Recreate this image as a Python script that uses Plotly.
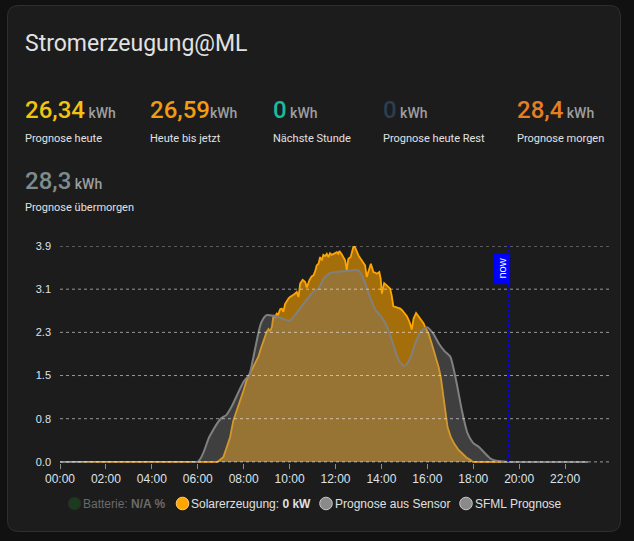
import plotly.graph_objects as go

# ---------------- data ----------------
tick_hours = [0, 2, 4, 6, 8, 10, 12, 14, 16, 18, 20, 22]
tick_labels = ["00:00", "02:00", "04:00", "06:00", "08:00", "10:00",
               "12:00", "14:00", "16:00", "18:00", "20:00", "22:00"]
y_tickvals = [0, 0.78, 1.56, 2.34, 3.12, 3.9]
y_ticklabels = ["0.0", "0.8", "1.5", "2.3", "3.1", "3.9"]

# Solarerzeugung (kW), hour of day
solar_hours = [0.0, 6.85, 6.95, 7.12, 7.25, 7.41, 7.55, 7.70, 7.84, 8.00, 8.13, 8.25,
               8.42, 8.55, 8.64, 8.75, 8.86, 9.00, 9.08, 9.15, 9.23, 9.30, 9.37, 9.44,
               9.50, 9.59, 9.66, 9.73, 9.80, 9.88, 9.95, 10.02, 10.10, 10.17, 10.24,
               10.31, 10.39, 10.46, 10.57, 10.68, 10.75, 10.86, 10.96, 11.04, 11.12,
               11.18, 11.26, 11.33, 11.40, 11.47, 11.55, 11.62, 11.69, 11.76, 11.84,
               11.91, 11.98, 12.06, 12.12, 12.17, 12.27, 12.35, 12.42, 12.49, 12.56,
               12.66, 12.72, 12.78, 12.85, 12.92, 13.00, 13.08, 13.15, 13.22, 13.29,
               13.36, 13.44, 13.54, 13.60, 13.65, 13.72, 13.80, 13.91, 13.97, 14.02,
               14.07, 14.12, 14.23, 14.30, 14.38, 14.45, 14.52, 14.60, 14.67, 14.75,
               14.82, 14.90, 14.96, 15.04, 15.11, 15.18, 15.25, 15.32, 15.40, 15.51,
               15.61, 15.69, 15.76, 15.84, 15.90, 15.97, 16.05, 16.19, 16.27, 16.41,
               16.50, 16.59, 16.67, 16.74, 16.81, 16.88, 17.02, 17.17, 17.35, 17.53,
               17.70, 17.90, 17.98, 19.52]
solar_values = [0, 0, 0.03, 0.09, 0.25, 0.45, 0.75, 0.92, 1.11, 1.30, 1.48, 1.58,
                1.72, 1.82, 1.90, 2.05, 2.20, 2.35, 2.40, 2.36, 2.44, 2.65, 2.62, 2.68,
                2.66, 2.76, 2.77, 2.71, 2.85, 2.92, 2.95, 2.98, 3.01, 3.02, 3.04,
                3.07, 2.98, 3.22, 3.29, 3.25, 3.15, 3.28, 3.35, 3.37, 3.45,
                3.55, 3.58, 3.70, 3.64, 3.74, 3.72, 3.76, 3.70, 3.77, 3.74,
                3.76, 3.77, 3.79, 3.76, 3.81, 3.75, 3.70, 3.64, 3.47, 3.67,
                3.70, 3.78, 3.89, 3.88, 3.80, 3.73, 3.68, 3.64, 3.60, 3.55,
                3.34, 3.46, 3.58, 3.50, 3.43, 3.42, 3.40, 3.43, 3.30, 3.04,
                3.15, 3.23, 3.19, 3.16, 3.13, 3.00, 2.81, 2.80, 2.79, 2.78,
                2.77, 2.74, 2.71, 2.67, 2.63, 2.57, 2.50, 2.39, 2.59, 2.69,
                2.63, 2.59, 2.55, 2.50, 2.44, 2.38, 2.32, 2.14, 2.03, 1.85,
                1.70, 1.52, 1.25, 1.00, 0.80, 0.63, 0.45, 0.33, 0.22, 0.15,
                0.08, 0.03, 0, 0]

# Prognose aus Sensor (kW)
forecast_hours = [0, 6.0, 6.5, 7.0, 7.25, 7.5, 8.0, 8.25, 8.5, 8.75, 9.0, 9.5, 10.0,
                  10.5, 11.0, 11.25, 11.5, 11.75, 12.0, 12.5, 13.0, 13.25, 13.5,
                  13.75, 14.0, 14.25, 14.5, 14.75, 15.0, 15.25, 15.5, 15.75, 16.0,
                  16.25, 16.5, 16.75, 17.0, 17.25, 17.5, 17.75, 18.0, 18.25, 18.5,
                  18.75, 19.0, 19.5, 23.0]
forecast_values = [0, 0, 0.45, 0.78, 0.85, 1.02, 1.45, 1.58, 2.05, 2.50, 2.65, 2.62, 2.55,
                   2.80, 3.06, 3.13, 3.32, 3.41, 3.43, 3.45, 3.46, 3.28, 2.98,
                   2.74, 2.62, 2.44, 2.14, 1.84, 1.73, 1.87, 2.17, 2.38, 2.43,
                   2.32, 2.14, 2.00, 1.90, 1.48, 0.94, 0.52, 0.34, 0.27, 0.16,
                   0.06, 0.02, 0, 0]

now_hour = 19.52

stats_values = ["26,34", "26,59", "0", "0", "28,4", "28,3"]
stats_units = [" kWh", "kWh", " kWh", " kWh", " kWh", " kWh"]
stats_labels = ["Prognose heute", "Heute bis jetzt", "Nächste Stunde",
                "Prognose heute Rest", "Prognose morgen", "Prognose übermorgen"]
stats_colors = ["#f1c40f", "#f39c12", "#1abc9c", "#2c3e50", "#e67e22", "#7f8c8d"]
stats_x = [24, 149, 272, 382, 516, 24]
stats_row = [0, 0, 0, 0, 0, 1]

legend_names = ["Batterie: <b>N/A %</b>", "Solarerzeugung: <b>0 kW</b>",
                "Prognose aus Sensor", "SFML Prognose"]
legend_fill = ["#1c3a1c", "#ffa500", "#8a8a8a", "#8a8a8a"]
legend_border = ["#2a2a2a", "#ffd27a", "#c8c8c8", "#c8c8c8"]
legend_text_color = ["#6a6a6a", "#e0e0e0", "#e0e0e0", "#e0e0e0"]
legend_x = [74.5, 182.5, 326, 466]

# ---------------- geometry ----------------
W, H = 634, 541
L, R, T, B = 60, 611, 246, 463
Y_MIN, Y_MAX = -0.02, 3.9


def px(x):
    return (x - L) / (R - L)


def py(y):
    return (B - y) / (B - T)


fig = go.Figure()

fig.add_trace(go.Scatter(
    x=solar_hours, y=solar_values, mode="lines", name="Solarerzeugung",
    line=dict(color="#ffa500", width=1.8, shape="linear"),
    fill="tozeroy", fillcolor="rgba(255,165,0,0.6)", showlegend=False,
    hoverinfo="skip"))

fig.add_trace(go.Scatter(
    x=forecast_hours, y=forecast_values, mode="lines", name="Prognose aus Sensor",
    line=dict(color="#808080", width=2, shape="spline", smoothing=0.6),
    fill="tozeroy", fillcolor="rgba(128,128,128,0.35)", showlegend=False,
    hoverinfo="skip"))

shapes = []
# card
x0, x1, y0, y1, r = 7.5, 620.5, 5.5, 531.5, 11


def P(x, y):
    return f"{px(x):.5f},{py(y):.5f}"


path = (f"M {P(x0 + r, y0)} L {P(x1 - r, y0)} Q {P(x1, y0)} {P(x1, y0 + r)} "
        f"L {P(x1, y1 - r)} Q {P(x1, y1)} {P(x1 - r, y1)} "
        f"L {P(x0 + r, y1)} Q {P(x0, y1)} {P(x0, y1 - r)} "
        f"L {P(x0, y0 + r)} Q {P(x0, y0)} {P(x0 + r, y0)} Z")
shapes.append(dict(type="path", path=path, xref="paper", yref="paper",
                   fillcolor="#1c1c1c", line=dict(color="#2f2f2f", width=1),
                   layer="below"))

# dashed horizontal grid lines drawn over the areas
for yv in y_tickvals:
    shapes.append(dict(type="line", xref="paper", yref="y", x0=0, x1=px(609),
                       y0=yv, y1=yv, layer="above",
                       line=dict(color="rgba(255,255,255,0.55)", width=1,
                                 dash="3px,3px")))

# now line
shapes.append(dict(type="line", xref="x", yref="paper", x0=now_hour, x1=now_hour,
                   y0=py(462), y1=1, line=dict(color="#0000ff", width=1.5,
                                               dash="3px,2px")))

# legend circles
for lx, fc, bc in zip(legend_x, legend_fill, legend_border):
    shapes.append(dict(type="circle", xref="paper", yref="paper",
                       xsizemode="pixel", ysizemode="pixel",
                       xanchor=px(lx), yanchor=py(503.5),
                       x0=-6.3, x1=6.3, y0=-6.3, y1=6.3,
                       fillcolor=fc, line=dict(color=bc, width=1)))

annotations = []
annotations.append(dict(x=now_hour, xref="x", xshift=-6.5, y=py(253), yref="paper",
                        text="\u00a0now\u00a0", textangle=-90, showarrow=False,
                        bgcolor="#0000ff", borderpad=2,
                        font=dict(family="Liberation Sans", size=11, color="#ffffff")))

# title
annotations.append(dict(x=px(23), y=py(43), xref="paper", yref="paper",
                        xanchor="left", yanchor="middle", showarrow=False,
                        text="Stromerzeugung@ML",
                        font=dict(family="Roboto", size=23, color="#e1e1e1")))

for v, u, lab, col, sx, row in zip(stats_values, stats_units, stats_labels,
                                   stats_colors, stats_x, stats_row):
    vy = 110 + row * 71
    ly = 138 + row * 69
    annotations.append(dict(
        x=px(sx - 1), y=py(vy), xref="paper", yref="paper", xanchor="left",
        yanchor="middle", showarrow=False,
        text=f"{v}<span style='font-size:14px;color:#9e9e9e;font-weight:500'>{u}</span>",
        font=dict(family="Roboto", size=24, color=col, weight=500)))
    annotations.append(dict(
        x=px(sx - 1), y=py(ly), xref="paper", yref="paper", xanchor="left",
        yanchor="middle", showarrow=False, text=lab,
        font=dict(family="Roboto", size=11, color="#e1e1e1")))

for name, lx, tc in zip(legend_names, legend_x, legend_text_color):
    annotations.append(dict(
        x=px(lx + 6.5), y=py(503.5), xref="paper", yref="paper", xanchor="left",
        yanchor="middle", showarrow=False, text=name,
        font=dict(family="Liberation Sans", size=12, color=tc)))

fig.update_layout(
    width=W, height=H,
    margin=dict(l=L, r=W - R, t=T, b=H - B, pad=0),
    paper_bgcolor="#111111", plot_bgcolor="rgba(0,0,0,0)",
    shapes=shapes, annotations=annotations, showlegend=False,
    font=dict(family="Liberation Sans", color="#dddddd"),
)
fig.update_xaxes(range=[0, 24], tickvals=tick_hours, ticktext=tick_labels,
                 showgrid=False, zeroline=False, showline=False,
                 ticks="outside", ticklen=5, tickcolor="#8a8a8a", tickwidth=1,
                 tickfont=dict(size=12, color="#dde3ea"), fixedrange=True)
fig.update_yaxes(range=[Y_MIN, Y_MAX], tickvals=y_tickvals, ticktext=y_ticklabels,
                 showgrid=False, zeroline=False, showline=False, ticks="",
                 ticklabelstandoff=8,
                 tickfont=dict(size=11, color="#dde3ea"), fixedrange=True)

fig.write_html("out.html")
